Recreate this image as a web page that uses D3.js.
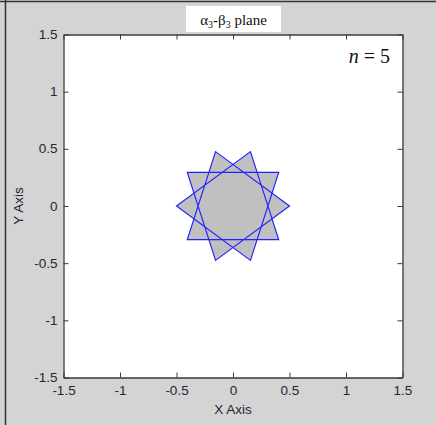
<!DOCTYPE html>
<html>
<head>
<meta charset="utf-8">
<script src="https://cdn.jsdelivr.net/npm/d3@7"></script>
<style>
  html, body { margin: 0; padding: 0; background: #d4d4d4; }
</style>
</head>
<body>
<div id="chart"></div>
<script>
// star polygon {10/3}: vertex order, radius 0.5
var starX = [0.5, -0.1545, -0.4045, 0.4045, 0.1545, -0.5, 0.1545, 0.4045, -0.4045, -0.1545];
var starY = [0, 0.4755, -0.2939, -0.2939, 0.4755, 0, -0.4755, 0.2939, 0.2939, -0.4755];
var xTicks = [-1.5, -1, -0.5, 0, 0.5, 1, 1.5];
var yTicks = [-1.5, -1, -0.5, 0, 0.5, 1, 1.5];

function init() {
    var w = 436, h = 425;
    var left = 63.5, right = 402.5, top = 34.5, bottom = 377.5;
    var sans = "'Liberation Sans', Arial, sans-serif";
    var serif = "'Liberation Serif', 'Times New Roman', serif";

    var svg = d3.select("#chart").append("svg")
        .attr("width", w).attr("height", h);

    // figure background + frame
    svg.append("rect").attr("width", w).attr("height", h).attr("fill", "#d4d4d4");
    svg.append("line").attr("x1", 0).attr("x2", w).attr("y1", 1.5).attr("y2", 1.5)
        .attr("stroke", "#333").attr("stroke-width", 1.5);
    svg.append("line").attr("x1", 5.5).attr("x2", 5.5).attr("y1", 0).attr("y2", h)
        .attr("stroke", "#333").attr("stroke-width", 1.5);

    var x = d3.scaleLinear().domain([-1.5, 1.5]).range([left, right]);
    var y = d3.scaleLinear().domain([-1.5, 1.5]).range([bottom, top]);

    // plot area
    svg.append("rect").attr("x", left).attr("y", top)
        .attr("width", right - left).attr("height", bottom - top)
        .attr("fill", "white");

    // star
    var pts = starX.map(function(d, i) { return [x(d), y(starY[i])]; });
    svg.append("path")
        .attr("d", d3.line()(pts) + "Z")
        .attr("fill", "#c0c0c0")
        .attr("fill-rule", "nonzero")
        .attr("stroke", "#2222ff")
        .attr("stroke-width", 1.2);

    // axes (ticks inside, box)
    var axisCol = "#3a3a3a";
    var bAxis = svg.append("g").attr("transform", "translate(0," + bottom + ")")
        .call(d3.axisBottom(x).tickValues(xTicks).tickSizeInner(-5).tickSizeOuter(0).tickPadding(9)
            .tickFormat(function(d) { return String(d); }));
    var tAxis = svg.append("g").attr("transform", "translate(0," + top + ")")
        .call(d3.axisTop(x).tickValues(xTicks).tickSizeInner(-5).tickSizeOuter(0).tickFormat(""));
    var lAxis = svg.append("g").attr("transform", "translate(" + left + ",0)")
        .call(d3.axisLeft(y).tickValues(yTicks).tickSizeInner(-5).tickSizeOuter(0).tickPadding(6)
            .tickFormat(function(d) { return String(d); }));
    var rAxis = svg.append("g").attr("transform", "translate(" + right + ",0)")
        .call(d3.axisRight(y).tickValues(yTicks).tickSizeInner(-5).tickSizeOuter(0).tickFormat(""));

    [bAxis, tAxis, lAxis, rAxis].forEach(function(g) {
        g.selectAll("path").attr("stroke", axisCol).attr("stroke-width", 1.3);
        g.selectAll("line").attr("stroke", axisCol);
        g.selectAll("text").attr("fill", "#262636")
            .style("font-family", sans)
            .style("font-size", "13.5px");
    });
    bAxis.selectAll(".tick text").attr("dy", "0.62em");
    lAxis.selectAll(".tick text").attr("dy", "0.3em");

    // axis labels
    svg.append("text").attr("x", (left + right) / 2).attr("y", 414)
        .attr("text-anchor", "middle")
        .style("font-family", sans).style("font-size", "13.5px")
        .attr("fill", "#262636").text("X Axis");
    svg.append("text")
        .attr("transform", "translate(23," + (top + bottom) / 2 + ") rotate(-90)")
        .attr("text-anchor", "middle")
        .style("font-family", sans).style("font-size", "13.5px")
        .attr("fill", "#262636").text("Y Axis");

    // title box
    svg.append("rect").attr("x", 186).attr("y", 6).attr("width", 95).attr("height", 26)
        .attr("fill", "white");
    var title = svg.append("text").attr("x", 233.5).attr("y", 24.5)
        .attr("text-anchor", "middle")
        .style("font-family", serif).style("font-size", "15px")
        .attr("fill", "#111");
    title.append("tspan").text("\u03B1");
    title.append("tspan").style("font-size", "10px").attr("dy", 3).text("3");
    title.append("tspan").attr("dy", -3).text("-\u03B2");
    title.append("tspan").style("font-size", "10px").attr("dy", 3).text("3");
    title.append("tspan").attr("dy", -3).text(" plane");

    // n = 5 annotation
    var ann = svg.append("text").attr("x", 390).attr("y", 63)
        .attr("text-anchor", "end")
        .style("font-family", serif).style("font-size", "20px")
        .attr("fill", "#111");
    ann.append("tspan").style("font-style", "italic").text("n");
    ann.append("tspan").text(" = 5");
}

window.onload = init;
</script>
</body>
</html>
